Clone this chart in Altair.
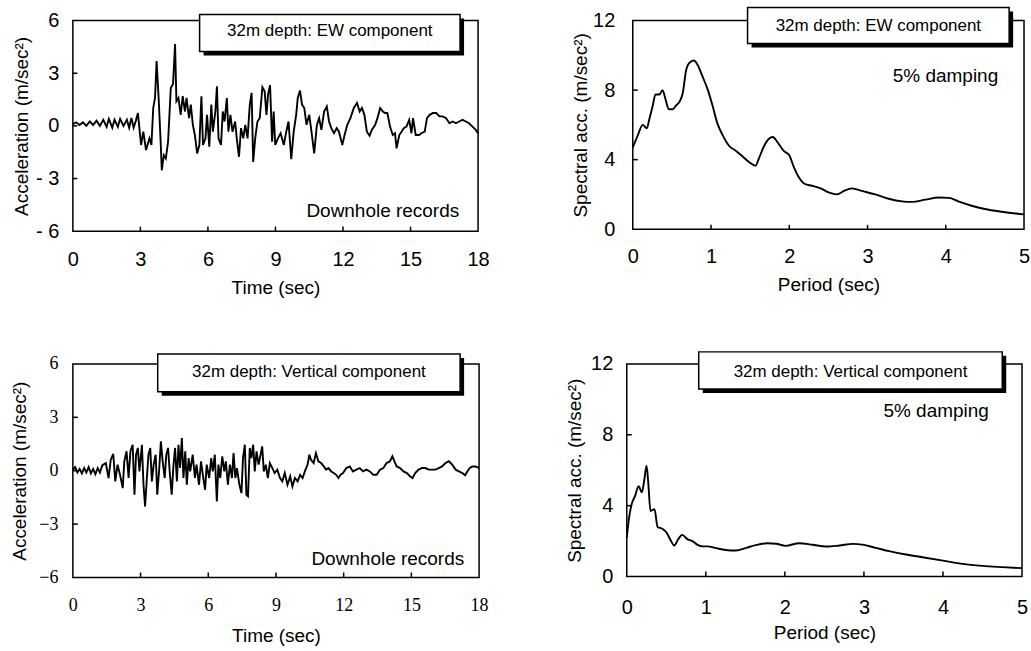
import altair as alt
import pandas as pd

# ---------------- data ----------------
# 32 m depth, EW acceleration record
ew_time = [0.0, 0.15, 0.3, 0.45, 0.6, 0.75, 0.9, 1.05, 1.2, 1.35,
           1.5, 1.6, 1.75, 1.85, 2.0, 2.1, 2.25, 2.4, 2.5, 2.6,
           2.7, 2.8,
           2.89, 3.03, 3.13, 3.25, 3.40, 3.49, 3.57, 3.65, 3.72, 3.81,
           3.90, 3.95, 4.04, 4.13, 4.23, 4.35, 4.45, 4.54, 4.60, 4.69,
           4.79, 4.88, 4.98, 5.05, 5.16, 5.24, 5.33, 5.42, 5.52, 5.62,
           5.71, 5.78, 5.89, 5.96, 6.06, 6.15, 6.22, 6.33, 6.40, 6.47,
           6.58, 6.66, 6.74, 6.84, 6.91, 7.00, 7.09, 7.21, 7.28, 7.38,
           7.47, 7.57, 7.66, 7.76, 7.86, 7.94, 8.01, 8.10, 8.20, 8.30,
           8.42, 8.52, 8.60, 8.67, 8.76, 8.85, 8.92, 8.99, 9.11, 9.23,
           9.37, 9.48, 9.58, 9.70, 9.81, 9.92, 9.99, 10.09, 10.18, 10.28,
           10.38, 10.50, 10.60, 10.72, 10.84, 10.94, 11.04, 11.16, 11.28, 11.38,
           11.48, 11.60, 11.72, 11.82, 11.97, 12.07, 12.19, 12.33, 12.48, 12.62,
           12.74, 12.84, 12.95, 13.06, 13.18, 13.28, 13.43, 13.53, 13.65, 13.77,
           13.87, 13.97, 14.09, 14.21, 14.31, 14.38, 14.50, 14.60, 14.70, 14.82,
           14.94, 15.04, 15.11, 15.23, 15.38, 15.48, 15.63, 15.73, 15.85, 15.99,
           16.14, 16.29, 16.43, 16.58, 16.73, 16.87, 17.02, 17.16, 17.31, 17.46,
           17.60, 17.75, 17.90, 18.00]
ew_acc = [0.1, 0.2, 0.05, 0.2, 0.0, 0.25, 0.05, 0.3, 0.0, 0.35,
          -0.05, 0.4, -0.1, 0.35, -0.05, 0.4, 0.0, 0.35, -0.1, 0.45,
          -0.1, 0.3,
          0.73, -1.09, -0.33, -1.38, -0.71, -1.09, 1.02, 1.59, 3.70, 1.59,
          -0.90, -2.53, -1.67, -1.86, -0.90, 2.16, 2.39, 4.66, 1.40, 1.59,
          0.63, 1.69, 0.82, 1.59, 0.44, 1.21, 0.06, -0.52, -1.57, -1.09,
          1.69, -1.09, -0.71, 0.63, -1.19, 1.21, -0.33, 0.82, 2.26, -0.71,
          -1.09, 0.82, 0.25, 1.59, -0.33, 0.63, -0.33, 0.25, -0.71, -1.76,
          -0.13, -0.71, 0.06, -0.71, 1.21, 1.88, -2.05, -0.71, 0.25, 0.44,
          2.20, 1.97, 0.63, 1.78, 2.32, -0.90, 0.82, -1.09, -0.71, -0.42,
          -1.09, -0.33, 0.25, -1.90, -0.33, 0.63, 1.59, 2.01, 1.21, 1.02,
          0.06, 0.63, -0.33, -1.57, 0.06, 0.44, -0.23, 0.82, 1.11, 0.25,
          -0.13, -0.42, -0.13, -0.33, -1.09, -0.52, 0.06, 0.44, 1.02, 1.30,
          0.82, 1.02, 0.63, -0.33, -0.56, -0.23, 0.06, 0.44, 1.02, 0.82,
          0.73, 0.73, -0.04, -0.52, -0.42, -1.28, -0.52, -0.33, -0.13, -0.04,
          0.34, -0.42, 0.44, -0.52, -0.52, -0.42, -0.33, 0.44, 0.63, 0.73,
          0.73, 0.54, 0.54, 0.44, 0.15, 0.25, 0.15, 0.25, 0.34, 0.25,
          0.15, -0.04, -0.23, -0.42]

# 32 m depth, vertical acceleration record
ud_time = [0.0, 0.1, 0.2, 0.3, 0.4, 0.5, 0.6, 0.7, 0.8, 0.9,
           1.0, 1.1, 1.2, 1.3,
           1.46, 1.58, 1.68, 1.79, 1.88, 1.98, 2.09, 2.21, 2.28, 2.38,
           2.47, 2.55, 2.65, 2.73, 2.80, 2.88, 2.95, 3.06, 3.13, 3.20,
           3.28, 3.35, 3.43, 3.50, 3.58, 3.67, 3.74, 3.83, 3.90, 3.98,
           4.07, 4.14, 4.22, 4.29, 4.38, 4.46, 4.53, 4.61, 4.68, 4.75,
           4.83, 4.90, 4.98, 5.05, 5.13, 5.20, 5.31, 5.41, 5.48, 5.59,
           5.68, 5.78, 5.86, 5.93, 6.04, 6.13, 6.20, 6.29, 6.38, 6.45,
           6.53, 6.62, 6.71, 6.78, 6.87, 6.96, 7.05, 7.12, 7.20, 7.27,
           7.38, 7.47, 7.54, 7.62, 7.69, 7.76, 7.84, 7.91, 7.99, 8.06,
           8.14, 8.23, 8.32, 8.39, 8.46, 8.55, 8.64, 8.73, 8.84, 8.94,
           9.06, 9.18, 9.28, 9.39, 9.51, 9.63, 9.73, 9.84, 9.96, 10.07,
           10.18, 10.28, 10.40, 10.48, 10.55, 10.67, 10.77, 10.88, 11.00, 11.12,
           11.22, 11.33, 11.45, 11.56, 11.67, 11.77, 11.86, 11.97, 12.12, 12.27,
           12.41, 12.56, 12.71, 12.86, 13.01, 13.16, 13.31, 13.46, 13.61, 13.76,
           13.90, 14.05, 14.16, 14.25, 14.35, 14.50, 14.65, 14.80, 14.95, 15.05,
           15.17, 15.32, 15.47, 15.62, 15.77, 15.92, 16.07, 16.21, 16.36, 16.51,
           16.66, 16.81, 16.96, 17.11, 17.26, 17.38, 17.48, 17.59, 17.70, 17.85,
           18.00]
ud_acc = [0.05, 0.2, -0.1, 0.1, -0.15, 0.15, -0.1, 0.2, -0.15, 0.1,
          -0.2, 0.15, -0.1, 0.3,
          0.43, -0.41, 0.62, 0.94, -0.60, 0.34, -0.23, -0.98, 0.53, 1.09,
          -0.41, 1.09, 1.46, -1.35, 0.90, 1.28, -0.04, 1.46, -0.79, -2.01,
          -0.41, 0.90, 1.28, -0.60, 0.34, 0.90, -1.35, 0.15, 1.65, 0.53,
          -0.41, 0.90, 1.28, -0.04, -1.35, 0.34, 1.28, -0.60, 1.46, 0.15,
          1.84, -0.41, 1.09, -0.79, 0.71, -0.04, 0.90, -0.41, 0.34, -0.79,
          0.53, -0.41, -1.07, 0.34, -0.41, 0.71, -0.04, 0.90, -1.73, 0.34,
          -0.41, 0.81, -0.04, 0.53, -0.79, 0.34, -0.41, 0.99, -0.41, 0.15,
          -0.79, -1.26, 0.71, 1.46, -1.35, -1.44, 1.28, 0.71, 1.46, -0.04,
          1.09, 0.34, 0.90, 1.37, -0.04, 0.34, -0.41, 0.43, 0.15, -0.13,
          0.06, -0.41, -0.60, -0.13, -0.79, -0.32, -0.88, -0.41, -0.60, -0.23,
          -0.41, -0.04, 0.34, 0.90, 0.62, 0.43, 0.99, 0.53, 0.43, 0.24,
          0.06, 0.15, -0.04, -0.13, -0.23, -0.41, -0.23, -0.13, 0.15, 0.24,
          -0.04, 0.06, 0.15, -0.04, 0.06, -0.04, -0.23, -0.23, 0.06, 0.15,
          0.43, 0.53, 0.81, 0.53, 0.24, 0.15, -0.04, -0.13, -0.32, -0.41,
          -0.13, 0.06, 0.15, 0.15, 0.06, 0.06, 0.06, 0.15, 0.24, 0.43,
          0.53, 0.34, 0.06, -0.04, -0.13, -0.26, -0.04, 0.15, 0.24, 0.24,
          0.15]

# 5% damped response spectra
ew_period = [0.0, 0.064, 0.127, 0.18, 0.21, 0.255, 0.29, 0.34, 0.38, 0.42,
             0.46, 0.51, 0.55, 0.60, 0.64, 0.68, 0.72, 0.78, 0.83, 0.89,
             0.96, 1.02, 1.08, 1.15, 1.23, 1.32, 1.40, 1.49, 1.57, 1.61,
             1.68, 1.74, 1.79, 1.85, 1.93, 2.00, 2.06, 2.12, 2.20, 2.29,
             2.40, 2.51, 2.61, 2.70, 2.80, 2.93, 3.10, 3.27, 3.44, 3.57,
             3.74, 3.91, 4.04, 4.16, 4.33, 4.50, 4.72, 5.0]
ew_sa = [4.7, 5.4, 6.0, 5.8, 6.3, 7.1, 7.75, 7.75, 8.0, 7.45,
         6.9, 6.9, 7.1, 7.35, 7.85, 9.1, 9.55, 9.7, 9.45, 8.8,
         8.0, 7.1, 6.1, 5.4, 4.8, 4.5, 4.2, 3.85, 3.65, 4.05,
         4.8, 5.2, 5.3, 5.0, 4.5, 4.25, 3.55, 3.0, 2.6, 2.5,
         2.35, 2.1, 2.0, 2.2, 2.35, 2.2, 2.0, 1.75, 1.6, 1.57,
         1.7, 1.82, 1.8, 1.6, 1.35, 1.16, 1.0, 0.85]

ud_period = [0.0, 0.03, 0.063, 0.105, 0.15, 0.19, 0.22, 0.25, 0.27, 0.30,
             0.35, 0.39, 0.45, 0.50, 0.56, 0.60, 0.65, 0.70, 0.77, 0.83,
             0.89, 0.96, 1.02, 1.13, 1.25, 1.38, 1.51, 1.63, 1.78, 1.89,
             2.01, 2.18, 2.35, 2.52, 2.69, 2.86, 2.98, 3.15, 3.32, 3.53,
             3.74, 4.0, 4.25, 4.5, 4.75, 5.0]
ud_sa = [2.2, 3.35, 4.1, 4.55, 5.1, 4.75, 5.4, 6.25, 5.4, 3.7,
         3.8, 2.8, 2.7, 2.5, 2.0, 1.75, 2.1, 2.35, 2.1, 2.0,
         1.8, 1.7, 1.7, 1.6, 1.5, 1.47, 1.62, 1.77, 1.88, 1.85,
         1.73, 1.88, 1.79, 1.69, 1.75, 1.84, 1.8, 1.62, 1.43, 1.24,
         1.09, 0.90, 0.71, 0.60, 0.53, 0.47]

time_ticks = [0, 3, 6, 9, 12, 15, 18]
acc_ticks = [-6, -3, 0, 3, 6]
period_ticks = [0, 1, 2, 3, 4, 5]
sa_ticks = [0, 4, 8, 12]

SANS = "Liberation Sans"
SERIF = "Liberation Serif"


def panel(xs, ys, xdom, ydom, xvals, yvals, xtitle, ytitle, w, h,
          box, box_text, note, note_xy, note_size, xtick_len, ytick_len,
          label_font=SANS, label_size=20, ylabel_expr=None, interp="linear",
          ylab_pad=14, ytit_pad=6, xlab_pad=16, xtit_pad=10, anchors=()):
    xsc = alt.Scale(domain=xdom, nice=False, zero=False)
    ysc = alt.Scale(domain=ydom, nice=False, zero=False)
    yaxis_kw = dict(values=yvals, title=ytitle, labelFont=label_font,
                    labelFontSize=label_size,
                    labelPadding=ylab_pad, titlePadding=ytit_pad)
    if ylabel_expr:
        yaxis_kw["labelExpr"] = ylabel_expr
    xax = alt.Axis(values=xvals, title=xtitle, labelFlush=False,
                   labelFont=label_font, labelFontSize=label_size,
                   labelPadding=xlab_pad, titlePadding=xtit_pad)
    yax = alt.Axis(**yaxis_kw)

    def X(f):
        return alt.X(f, type="quantitative", scale=xsc, axis=xax, title=xtitle)

    def Y(f):
        return alt.Y(f, type="quantitative", scale=ysc, axis=yax, title=ytitle)

    df = pd.DataFrame({"x": xs, "y": ys})
    line = alt.Chart(df).mark_line(color="black", strokeWidth=1.9,
                                   interpolate=interp).encode(x=X("x"), y=Y("y"))
    inner_x = [v for v in xvals if xdom[0] < v < xdom[1]]
    inner_y = [v for v in yvals if ydom[0] < v < ydom[1]]
    xt = pd.DataFrame({"x": inner_x, "y": [ydom[0]] * len(inner_x),
                       "y2": [ydom[0] + xtick_len] * len(inner_x)})
    yt = pd.DataFrame({"y": inner_y, "x": [xdom[0]] * len(inner_y),
                       "x2": [xdom[0] + ytick_len] * len(inner_y)})
    xtick = alt.Chart(xt).mark_rule(color="black", strokeWidth=1.5).encode(
        x=X("x"), y=Y("y"), y2=alt.Y2("y2"))
    ytick = alt.Chart(yt).mark_rule(color="black", strokeWidth=1.5).encode(
        y=Y("y"), x=X("x"), x2=alt.X2("x2"))
    bdf = pd.DataFrame({"x": [box[0]], "x2": [box[1]],
                        "y": [box[2]], "y2": [box[3]]})
    tdf = pd.DataFrame({"x": [(box[0] + box[1]) / 2], "y": [box[4]]})
    ndf = pd.DataFrame({"x": [note_xy[0]], "y": [note_xy[1]]})
    enc = dict(x=X("x"), x2=alt.X2("x2"), y=Y("y"), y2=alt.Y2("y2"))
    shadow = alt.Chart(bdf).mark_rect(color="black", xOffset=4, x2Offset=4,
                                      yOffset=4, y2Offset=4).encode(**enc)
    frame = alt.Chart(bdf).mark_rect(fill="white", stroke="black",
                                     strokeWidth=1.5).encode(**enc)
    btext = alt.Chart(tdf).mark_text(text=box_text, font=SANS, fontSize=17,
                                     color="black", align="center",
                                     baseline="middle").encode(x=X("x"), y=Y("y"))
    ntext = alt.Chart(ndf).mark_text(text=note, font=SANS, fontSize=note_size,
                                     color="black", align="right",
                                     baseline="middle").encode(x=X("x"), y=Y("y"))
    layers = [line, xtick, ytick, shadow, frame, btext, ntext]
    if anchors:
        # invisible layout anchors, only used to place the panel in the grid
        adf = pd.DataFrame({"x": [a[0] for a in anchors],
                            "y": [a[1] for a in anchors]})
        layers.append(alt.Chart(adf).mark_point(opacity=0, size=1).encode(
            x=X("x"), y=Y("y")))
    return alt.layer(*layers).properties(width=w, height=h)


neg_dash = "datum.value < 0 ? '- ' + format(-datum.value, 'd') : format(datum.value, 'd')"

tl = panel(ew_time, ew_acc, [0, 18], [-6, 6], time_ticks, acc_ticks,
           "Time (sec)", "Acceleration (m/sec²)", 406, 211,
           [5.63, 17.20, 6.34, 4.24, 5.43], "32m depth: EW component",
           "Downhole records", [17.16, -4.86], 19, 0.26, 0.2,
           ylabel_expr=neg_dash, ylab_pad=14, ytit_pad=4,
           xlab_pad=18, xtit_pad=9, anchors=[(-3.01, 0.0), (18.62, 0.0)])

tr = panel(ew_period, ew_sa, [0, 5], [0, 12], period_ticks, sa_ticks,
           "Period (sec)", "Spectral acc. (m/sec²)", 392, 209,
           [1.467, 4.81, 12.75, 10.68, 11.71], "32m depth: EW component",
           "5% damping", [4.67, 8.84], 19, 0.25, 0.064, interp="monotone",
           ylab_pad=18, ytit_pad=2, xlab_pad=17, xtit_pad=9,
           anchors=[(-0.89, 0.0)])

bl = panel(ud_time, ud_acc, [0, 18], [-6, 6], time_ticks, acc_ticks,
           "Time (sec)", "Acceleration (m/sec²)", 407, 214,
           [3.76, 17.16, 6.56, 4.43, 5.55], "32m depth: Vertical component",
           "Downhole records", [17.34, -4.94], 19, 0.28, 0.22,
           label_font=SERIF, label_size=18, ylab_pad=15, ytit_pad=9,
           xlab_pad=19, xtit_pad=12, anchors=[(-3.01, 6.73)])

br = panel(ud_period, ud_sa, [0, 5], [0, 12], period_ticks, sa_ticks,
           "Period (sec)", "Spectral acc. (m/sec²)", 396, 213,
           [0.91, 4.75, 12.68, 10.59, 11.55], "32m depth: Vertical component",
           "5% damping", [4.58, 9.35], 19, 0.28, 0.063, interp="monotone",
           ylab_pad=14, ytit_pad=6, xlab_pad=21, xtit_pad=6,
           anchors=[(-0.81, 12.73)])

chart = alt.concat(tl, tr, bl, br, columns=2, align="none",
                   spacing={"row": 51, "column": 67}).properties(
    padding={"left": 3, "top": 5, "right": 0, "bottom": 0},
    background="white",
).configure_view(
    stroke="black", strokeWidth=1.5
).configure_axis(
    domain=False, ticks=False, grid=False,
    labelColor="black", titleColor="black",
    labelFont=SANS, titleFont=SANS,
    labelFontSize=20, titleFontSize=19, titleFontWeight="normal",
)

chart.save("out.html", embed_options={"renderer": "svg", "actions": False})
